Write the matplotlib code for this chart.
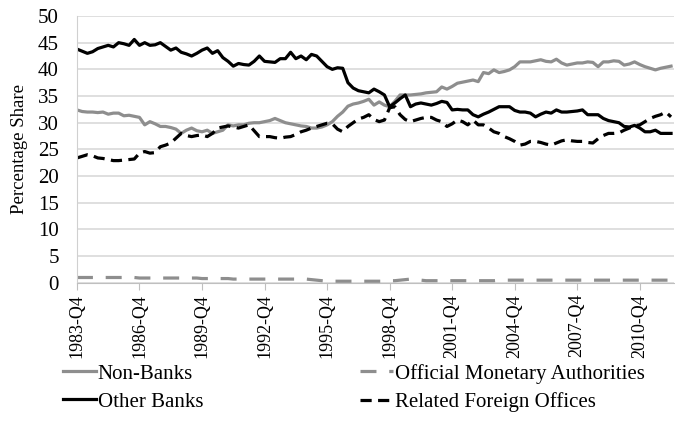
import matplotlib
matplotlib.use("Agg")
import matplotlib.pyplot as plt
from matplotlib.font_manager import FontProperties
import numpy as np

SERIF = 'Liberation Serif'

# quarterly data, 1983-Q4 .. 2012-Q2
start_year = 1983
tick_years = [1983, 1986, 1989, 1992, 1995, 1998, 2001, 2004, 2007, 2010]

non_banks = [
    32.4, 32.1, 32.0, 32.0, 31.9, 32.0, 31.6, 31.8, 31.8, 31.3, 31.4, 31.2,
    31.0, 29.6, 30.2, 29.8, 29.3, 29.3, 29.1, 28.8, 28.0, 28.6, 29.0, 28.5,
    28.3, 28.6, 28.0, 28.3, 28.6, 29.6, 29.4, 29.6, 29.6, 29.9, 30.0, 30.0,
    30.2, 30.4, 30.8, 30.4, 30.0, 29.8, 29.6, 29.4, 29.3, 29.0, 29.0, 29.2,
    29.6, 30.2, 31.2, 32.0, 33.1, 33.5, 33.7, 34.0, 34.4, 33.3, 33.9, 33.3,
    33.0, 34.0, 35.2, 35.2, 35.2, 35.3, 35.4, 35.6, 35.7, 35.8, 36.7, 36.3,
    36.8, 37.4, 37.6, 37.8, 38.0, 37.7, 39.4, 39.2, 39.9, 39.4, 39.6, 39.9,
    40.5, 41.4, 41.4, 41.4, 41.6, 41.8, 41.5, 41.4, 41.9, 41.2, 40.8, 41.0,
    41.2, 41.2, 41.4, 41.3, 40.5, 41.4, 41.4, 41.6, 41.5, 40.8, 41.0, 41.4,
    40.9, 40.5, 40.2, 39.9, 40.2, 40.4, 40.6,
]

other_banks = [
    43.8, 43.4, 43.0, 43.3, 43.9, 44.2, 44.5, 44.2, 45.0, 44.8, 44.5, 45.6,
    44.5, 45.0, 44.5, 44.6, 45.0, 44.3, 43.6, 44.0, 43.2, 42.9, 42.5, 43.0,
    43.6, 44.0, 43.0, 43.5, 42.2, 41.5, 40.6, 41.1, 40.9, 40.8, 41.5, 42.5,
    41.5, 41.4, 41.3, 42.0, 42.0, 43.2, 42.0, 42.5, 41.8, 42.8, 42.5, 41.5,
    40.5, 40.0, 40.3, 40.2, 37.5, 36.5, 36.0, 35.8, 35.6, 36.3, 35.8, 35.2,
    33.0, 33.7, 34.5, 35.2, 33.0, 33.5, 33.7, 33.5, 33.3, 33.6, 34.0, 33.8,
    32.4, 32.5, 32.4, 32.4, 31.5, 31.1, 31.6, 32.0, 32.5, 33.0, 33.0, 33.0,
    32.3, 32.0, 32.0, 31.8, 31.1, 31.6, 32.0, 31.8, 32.4, 32.0, 32.0, 32.1,
    32.2, 32.4, 31.5, 31.5, 31.5, 30.8, 30.4, 30.2, 30.0, 29.3, 29.2, 29.5,
    29.0, 28.3, 28.3, 28.6, 28.0, 28.0, 28.0,
]

official_monetary = [
    1.0, 1.0, 1.0, 1.0, 1.0, 1.0, 1.0, 1.0, 1.0, 1.0, 1.0, 1.0,
    0.9, 0.9, 0.9, 0.9, 0.9, 0.9, 0.9, 0.9, 0.9, 0.9, 0.9, 0.9,
    0.8, 0.8, 0.8, 0.8, 0.8, 0.8, 0.7, 0.7, 0.7, 0.7, 0.7, 0.7,
    0.7, 0.7, 0.7, 0.7, 0.7, 0.7, 0.7, 0.7, 0.7, 0.6, 0.5, 0.4,
    0.3, 0.3, 0.3, 0.3, 0.3, 0.3, 0.3, 0.3, 0.3, 0.3, 0.3, 0.3,
    0.4, 0.4, 0.5, 0.6, 0.7, 0.6, 0.5, 0.4, 0.4, 0.4, 0.4, 0.4,
    0.4, 0.4, 0.4, 0.4, 0.4, 0.4, 0.4, 0.4, 0.4, 0.5, 0.5, 0.5,
    0.5, 0.5, 0.5, 0.5, 0.5, 0.5, 0.5, 0.5, 0.5, 0.5, 0.5, 0.5,
    0.5, 0.5, 0.5, 0.5, 0.5, 0.5, 0.5, 0.5, 0.5, 0.5, 0.5, 0.5,
    0.5, 0.5, 0.5, 0.5, 0.5, 0.5, 0.5,
]

related_foreign = [
    23.4, 23.7, 24.0, 23.8, 23.4, 23.3, 23.1, 22.9, 22.9, 23.0, 23.1, 23.2,
    24.3, 24.6, 24.3, 24.4, 25.5, 25.8, 26.2, 27.1, 28.0, 27.6, 27.4, 27.6,
    27.7, 27.4, 28.0, 29.0, 29.2, 29.4, 29.2, 29.0, 29.3, 29.6, 28.5, 27.4,
    27.4, 27.4, 27.2, 27.1, 27.3, 27.4, 27.8, 28.3, 28.6, 29.0, 29.3, 29.6,
    29.9, 29.8, 28.8, 28.3, 29.3, 30.0, 30.7, 31.0, 31.5, 30.6, 30.2, 30.5,
    32.8, 33.0, 31.5, 30.6, 30.2, 30.5, 30.8, 31.0, 31.0, 30.5, 30.2, 29.3,
    29.8, 30.5, 30.2, 29.6, 30.5, 29.6, 29.6, 29.0, 28.3, 28.0, 27.4, 27.0,
    26.5, 25.8, 26.0, 26.5, 26.5, 26.3, 26.0, 25.8, 26.2, 26.6, 26.8, 26.6,
    26.5, 26.5, 26.3, 26.2, 27.0, 27.6, 28.0, 28.0, 28.1, 28.6, 29.0, 29.4,
    29.6, 30.2, 30.8, 31.2, 31.5, 32.0, 31.1,
]

x = np.arange(len(non_banks))
gray = '#8e8e8e'

fig = plt.figure(figsize=(6.75, 4.44), dpi=100)
ax = fig.add_axes([0.114, 0.363, 0.884, 0.601])

ax.plot(x, non_banks, color=gray, lw=2.3, label='Non-Banks')
ax.plot(x, other_banks, color='black', lw=2.3, label='Other Banks')
ax.plot(x, official_monetary, color=gray, lw=2.3, dashes=(5, 4),
        label='Official Monetary Authorities')
ax.plot(x, related_foreign, color='black', lw=2.3, dashes=(3.5, 2),
        label='Related Foreign Offices')

ax.set_ylim(0, 50)
ax.set_yticks(range(0, 51, 5))
ax.set_yticklabels([str(v) for v in range(0, 51, 5)], family=SERIF, fontsize=15)
ax.set_xlim(0, len(x) - 0.5)
ticks = [(y - start_year) * 4 for y in tick_years]
ax.set_xticks(ticks)
ax.set_xticklabels([f'{y}-Q4' for y in tick_years], rotation=90,
                   family=SERIF, fontsize=13)
ax.tick_params(axis='y', length=0, pad=13)
ax.tick_params(axis='x', length=5, color='#bfbfbf', pad=3)
ax.grid(axis='y', color='#d9d9d9', lw=1.2)
ax.set_axisbelow(True)
for side in ['top', 'right']:
    ax.spines[side].set_visible(False)
ax.spines['left'].set_color('#d0d0d0')
ax.spines['bottom'].set_color('#bfbfbf')
ax.set_ylabel('Percentage Share', family=SERIF, fontsize=13.5)
ax.yaxis.set_label_coords(-0.082, 0.5)

h, l = ax.get_legend_handles_labels()
fig.legend(h, l, ncol=2, loc='lower left', bbox_to_anchor=(0.066, 0.03),
           frameon=False, prop=FontProperties(family=SERIF, size=15),
           handlelength=1.55, handletextpad=0.1,
           columnspacing=7.55, labelspacing=0.4)

fig.savefig('out.png', dpi=100)
